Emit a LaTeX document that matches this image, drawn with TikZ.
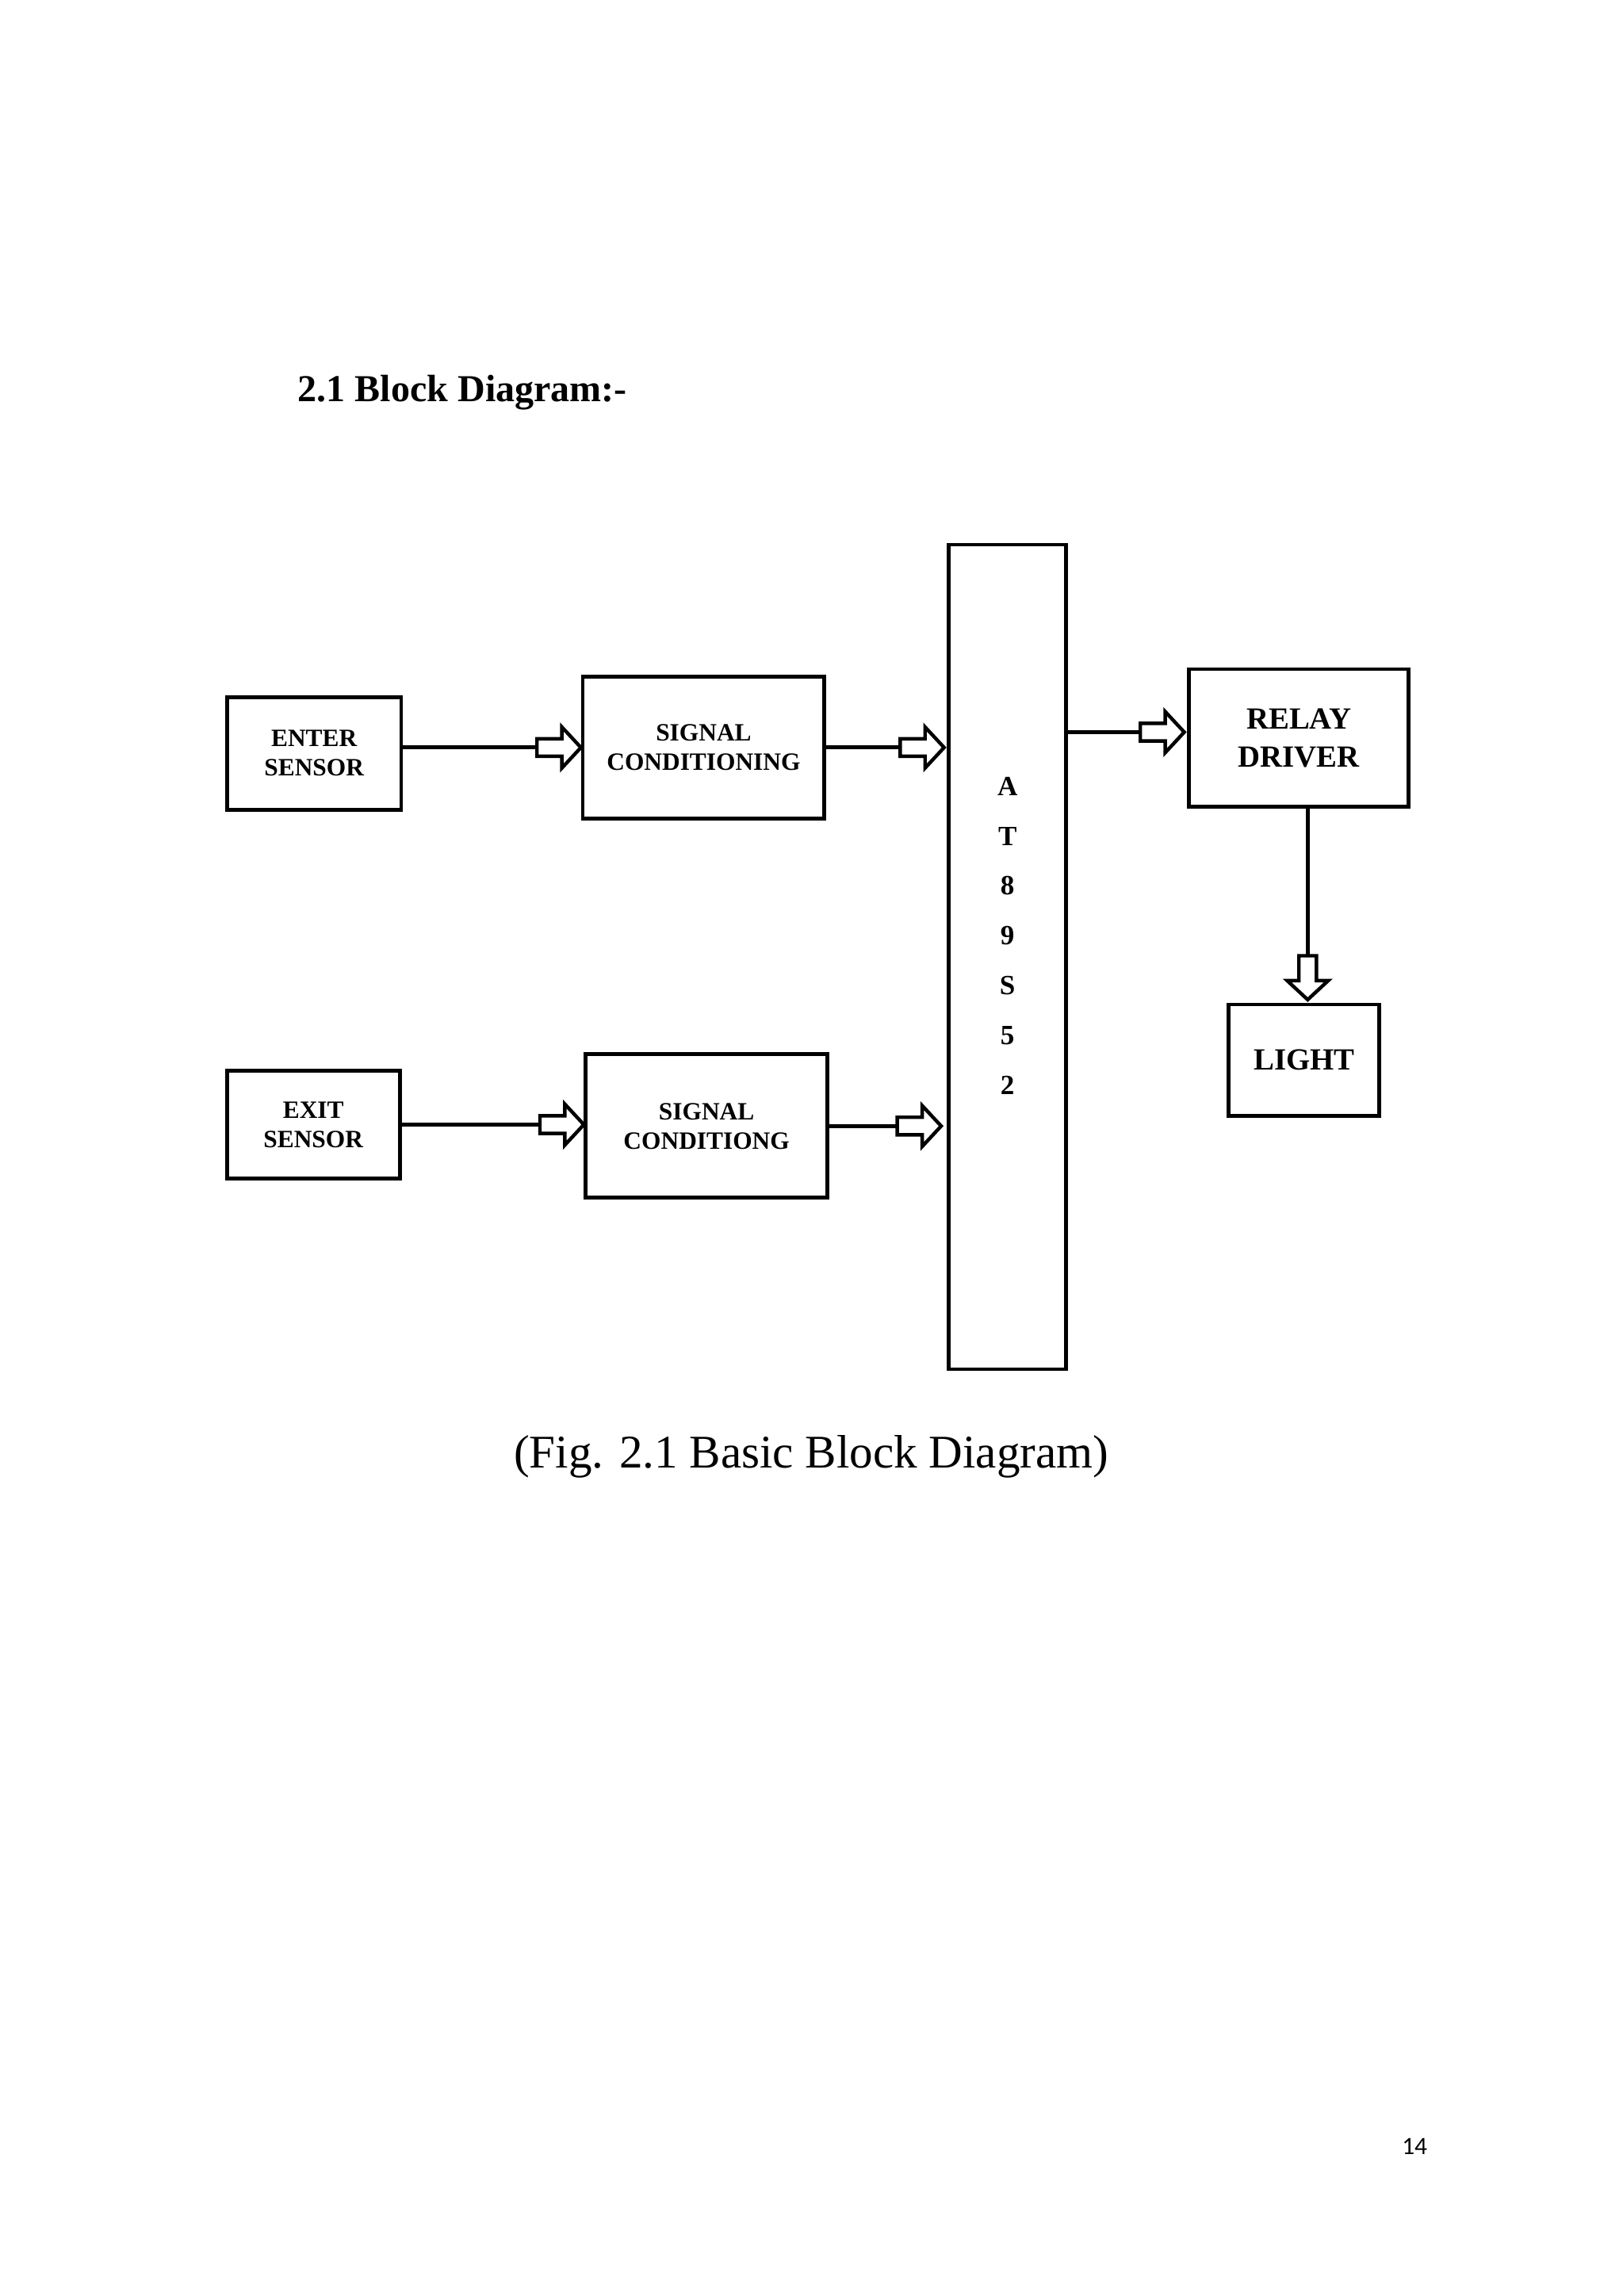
\documentclass[tikz,border=0pt]{standalone}
\usepackage{fontspec}
\setmainfont{Liberation Serif}
\newfontfamily\pgfont{Carlito}
\begin{document}
\begin{tikzpicture}[x=1pt,y=-1pt,
  blk/.style={draw,line width=2.6pt,align=center,font=\bfseries\fontsize{17}{20}\selectfont,inner sep=0pt},
  con/.style={line width=2.6pt},
  barrow/.pic={\draw[line width=2.4pt,fill=white,line join=miter] (0,-6)--(17,-6)--(17,-14)--(30,0)--(17,14)--(17,6)--(0,6)--cycle;}]
\useasboundingbox (0,0) rectangle (1108,1568);
\node[anchor=west,font=\bfseries\fontsize{26}{30}\selectfont] (title) at (200,268) {2.1 Block Diagram:-};
\node[blk,minimum width=119,minimum height=77] (es) at (214.5,514.5) {ENTER\\SENSOR};
\node[blk,minimum width=165,minimum height=97] (sc1) at (480.5,510.5) {SIGNAL\\CONDITIONING};
\node[blk,minimum width=80,minimum height=563] (at) at (688,653.5) {};
\node[font=\bfseries\fontsize{19}{34}\selectfont,align=center] (atl) at (688,639) {A\\T\\8\\9\\S\\5\\2};
\node[blk,minimum width=150,minimum height=94,font=\bfseries\fontsize{21}{26}\selectfont] (rd) at (887,504) {RELAY\\DRIVER};
\node[blk,minimum width=103,minimum height=76,font=\bfseries\fontsize{21}{26}\selectfont] (li) at (890.5,724) {LIGHT};
\node[blk,minimum width=118,minimum height=74] (xs) at (214,768) {EXIT\\SENSOR};
\node[blk,minimum width=165,minimum height=98] (sc2) at (482.5,769) {SIGNAL\\CONDITIONG};
\draw[con] ([yshift=4pt]es.east) -- ([xshift=-30pt,yshift=4pt]es.east -| sc1.west) pic{barrow};
\draw[con] (sc1.east) -- ([xshift=-32pt]sc1.east -| at.west) pic{barrow};
\draw[con] ([yshift=4pt]at.east |- rd.west) -- ([xshift=-32pt,yshift=4pt]rd.west) pic{barrow};
\draw[con] ([xshift=6pt]rd.south) -- ([xshift=2.5pt,yshift=32pt]li.north) pic[rotate=-90]{barrow};
\draw[con] (xs.east) -- ([xshift=-30pt]xs.east -| sc2.west) pic{barrow};
\draw[con] (sc2.east) -- ([xshift=-34pt]sc2.east -| at.west) pic{barrow};
\node[font=\fontsize{32}{38}\selectfont] (cap) at (554,995) {(Fig. 2.1 Basic Block Diagram)};
\node[font=\pgfont\fontsize{17}{20}\selectfont] (pg) at (966,1466) {14};
\end{tikzpicture}
\end{document}
